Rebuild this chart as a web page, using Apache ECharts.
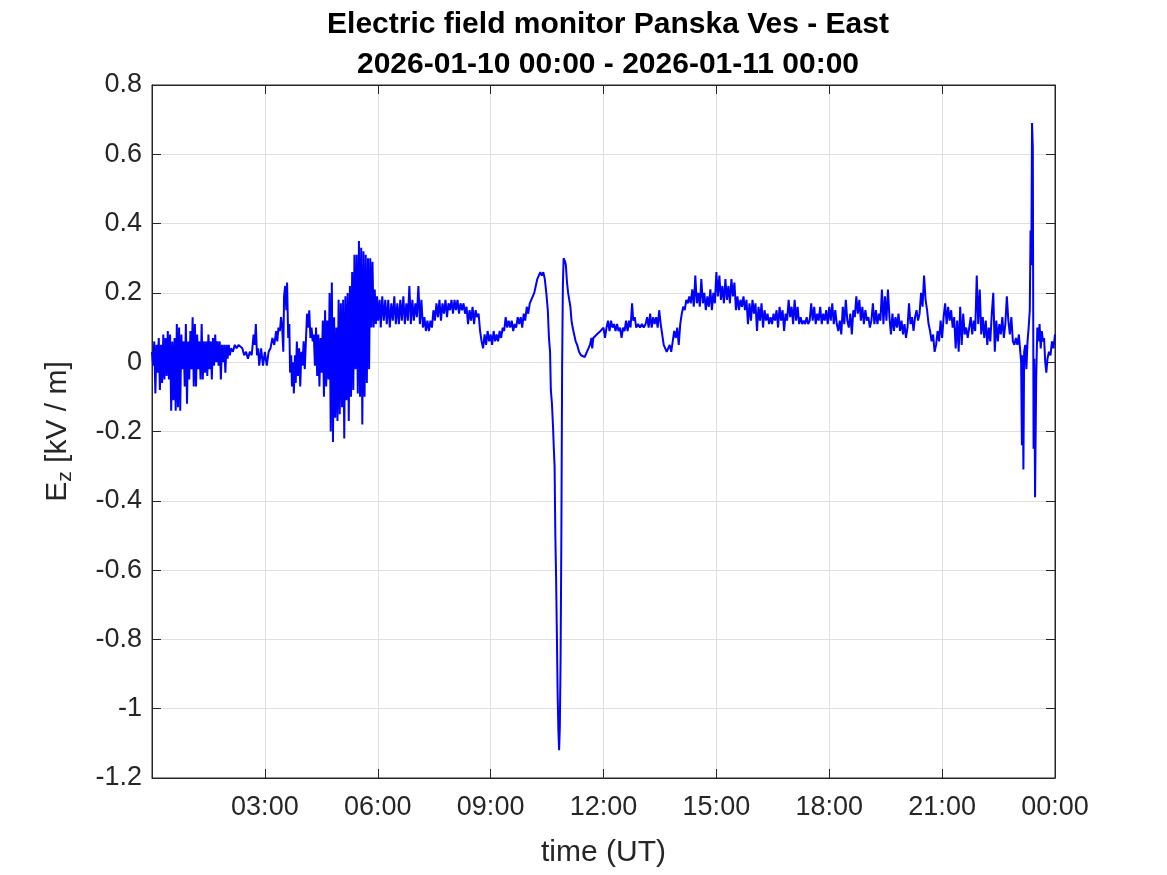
<!DOCTYPE html>
<html>
<head>
<meta charset="utf-8">
<title>Electric field monitor Panska Ves - East</title>
<script src="https://cdn.jsdelivr.net/npm/echarts@6/dist/echarts.min.js"></script>
<style>
  html, body { margin: 0; padding: 0; background: #fff; }
  #chart { width: 1167px; height: 875px; }
</style>
</head>
<body>
<div id="chart"></div>
<script>
// [hour UT, Ez in kV/m], one list per stretch of the day
const night = [
  [0.00, 0.03], [0.03, -0.01], [0.06, 0.06], [0.09, -0.09], [0.12, 0.05], [0.15, -0.03],
  [0.18, 0.07], [0.21, -0.08], [0.24, 0.05], [0.27, -0.06], [0.30, 0.08], [0.33, -0.05],
  [0.36, 0.07], [0.39, -0.04], [0.42, 0.09], [0.45, -0.05], [0.48, 0.08], [0.51, -0.14],
  [0.54, 0.06], [0.57, -0.11], [0.60, 0.07], [0.63, -0.14], [0.66, 0.11], [0.69, -0.13],
  [0.72, 0.10], [0.75, -0.14], [0.78, 0.08], [0.81, -0.02], [0.84, 0.06], [0.87, -0.07],
  [0.90, 0.11], [0.93, -0.12], [0.96, 0.06], [0.99, -0.05], [1.02, 0.09], [1.05, -0.02],
  [1.08, 0.13], [1.11, -0.07], [1.14, 0.11], [1.17, -0.07], [1.20, 0.08], [1.23, -0.02],
  [1.26, 0.06], [1.29, -0.05], [1.32, 0.11], [1.35, -0.05], [1.38, 0.06], [1.41, -0.03],
  [1.44, 0.06], [1.47, -0.04], [1.50, 0.08], [1.53, -0.02], [1.56, 0.06], [1.59, -0.05],
  [1.62, 0.07], [1.65, -0.01], [1.68, 0.08], [1.71, 0.00], [1.74, 0.06], [1.77, -0.01],
  [1.80, 0.06], [1.83, -0.05], [1.86, 0.05], [1.89, 0.00], [1.92, 0.05], [1.95, -0.03],
  [1.98, 0.05], [2.01, 0.01], [2.04, 0.05], [2.07, 0.02], [2.10, 0.04], [2.15, 0.03],
  [2.20, 0.05], [2.25, 0.04], [2.30, 0.05], [2.35, 0.05], [2.40, 0.04], [2.45, 0.02],
  [2.50, 0.03], [2.55, 0.01], [2.60, 0.03], [2.65, 0.02], [2.70, 0.08], [2.73, 0.05],
  [2.76, 0.11], [2.79, 0.02], [2.82, 0.04], [2.85, -0.01], [2.90, 0.04], [2.95, -0.01],
  [3.00, 0.03], [3.05, -0.01], [3.10, 0.03]
];

const earlyMorning = [
  [3.15, 0.04], [3.20, 0.07], [3.25, 0.05], [3.30, 0.09], [3.33, 0.06], [3.36, 0.10],
  [3.40, 0.09], [3.43, 0.13], [3.46, 0.10], [3.49, 0.03], [3.51, 0.19], [3.54, 0.22],
  [3.57, 0.15], [3.59, 0.23], [3.62, 0.07], [3.65, 0.11], [3.67, -0.03], [3.70, 0.02],
  [3.72, -0.07], [3.75, 0.00], [3.77, -0.09], [3.80, 0.02], [3.82, -0.06], [3.85, 0.06],
  [3.88, -0.04], [3.91, 0.04], [3.94, -0.07], [3.97, 0.03], [4.00, -0.01], [4.03, 0.06],
  [4.06, -0.02], [4.09, 0.06], [4.12, 0.14], [4.15, 0.10], [4.18, 0.15], [4.21, 0.07],
  [4.24, 0.10], [4.27, 0.06], [4.30, 0.08], [4.33, -0.01], [4.36, 0.10], [4.39, -0.04],
  [4.42, 0.08], [4.45, -0.07], [4.48, 0.07], [4.51, -0.03], [4.54, 0.12], [4.57, -0.10],
  [4.60, 0.15], [4.63, -0.07], [4.66, 0.12], [4.69, -0.05], [4.72, 0.20], [4.75, -0.20],
  [4.78, 0.23], [4.81, -0.23], [4.84, 0.13], [4.87, -0.16], [4.90, 0.10], [4.93, -0.17],
  [4.96, 0.18], [4.99, -0.15], [5.02, 0.17], [5.05, -0.13], [5.08, 0.18], [5.11, -0.22],
  [5.14, 0.19], [5.17, -0.11], [5.20, 0.20], [5.23, -0.17], [5.26, 0.22], [5.29, -0.10],
  [5.32, 0.26], [5.35, -0.08], [5.38, 0.31], [5.41, -0.02], [5.44, 0.31], [5.47, -0.09],
  [5.50, 0.35], [5.53, -0.10], [5.56, 0.33], [5.59, -0.18], [5.62, 0.32], [5.65, -0.10],
  [5.68, 0.31], [5.71, -0.06], [5.74, 0.30], [5.77, -0.02], [5.80, 0.30], [5.83, 0.10],
  [5.86, 0.29], [5.89, 0.10], [5.92, 0.21], [5.95, 0.11], [5.98, 0.19], [6.01, 0.12],
  [6.05, 0.18], [6.08, 0.10], [6.12, 0.19], [6.16, 0.12]
];

const morning = [
  [6.20, 0.18], [6.24, 0.11], [6.28, 0.18], [6.32, 0.10], [6.36, 0.17], [6.40, 0.12],
  [6.44, 0.19], [6.48, 0.11], [6.52, 0.17], [6.56, 0.11], [6.60, 0.18], [6.64, 0.12],
  [6.68, 0.19], [6.72, 0.11], [6.76, 0.17], [6.80, 0.12], [6.84, 0.22], [6.88, 0.11],
  [6.92, 0.18], [6.96, 0.12], [7.00, 0.17], [7.04, 0.13], [7.08, 0.22], [7.12, 0.11],
  [7.16, 0.18], [7.20, 0.10], [7.24, 0.13], [7.28, 0.09], [7.32, 0.12], [7.36, 0.09],
  [7.40, 0.12], [7.44, 0.10], [7.48, 0.15], [7.52, 0.12], [7.56, 0.17], [7.60, 0.13],
  [7.64, 0.18], [7.68, 0.12], [7.72, 0.17], [7.76, 0.14], [7.80, 0.18], [7.84, 0.13],
  [7.88, 0.17], [7.92, 0.15], [7.96, 0.18], [8.00, 0.14], [8.04, 0.18], [8.08, 0.15],
  [8.12, 0.18], [8.16, 0.14], [8.20, 0.17], [8.24, 0.15], [8.28, 0.17], [8.32, 0.14],
  [8.36, 0.16], [8.40, 0.11], [8.44, 0.15], [8.48, 0.12], [8.52, 0.16], [8.56, 0.11],
  [8.60, 0.15], [8.64, 0.13], [8.68, 0.14], [8.72, 0.09], [8.76, 0.06], [8.80, 0.04],
  [8.84, 0.08], [8.88, 0.05], [8.92, 0.09], [8.96, 0.06], [9.00, 0.08], [9.04, 0.05],
  [9.08, 0.09], [9.12, 0.06], [9.16, 0.08], [9.20, 0.06], [9.24, 0.09], [9.28, 0.07],
  [9.32, 0.10], [9.36, 0.09], [9.40, 0.13], [9.44, 0.10], [9.48, 0.12], [9.52, 0.10],
  [9.56, 0.12], [9.60, 0.09], [9.64, 0.11], [9.68, 0.10], [9.72, 0.13], [9.76, 0.11],
  [9.80, 0.13], [9.84, 0.10], [9.88, 0.14], [9.92, 0.12], [9.96, 0.16], [10.00, 0.14],
  [10.04, 0.17], [10.08, 0.17], [10.12, 0.19], [10.16, 0.20], [10.20, 0.22], [10.24, 0.24],
  [10.28, 0.25], [10.32, 0.26], [10.36, 0.25], [10.40, 0.26], [10.44, 0.24], [10.48, 0.20]
];

const dip = [
  [10.52, 0.15], [10.55, 0.07], [10.58, 0.03], [10.60, -0.08], [10.63, -0.12], [10.66, -0.19],
  [10.68, -0.25], [10.70, -0.30], [10.72, -0.50], [10.74, -0.62], [10.76, -0.78], [10.78, -0.95],
  [10.80, -1.06], [10.82, -1.12], [10.84, -1.05], [10.86, -0.85], [10.88, -0.50], [10.90, -0.02],
  [10.92, 0.22], [10.94, 0.30], [10.96, 0.30], [10.98, 0.29], [11.00, 0.28], [11.03, 0.23],
  [11.06, 0.20], [11.09, 0.18], [11.12, 0.16], [11.15, 0.12], [11.18, 0.10], [11.22, 0.08],
  [11.26, 0.06], [11.30, 0.05], [11.35, 0.03], [11.40, 0.02], [11.45, 0.02], [11.50, 0.015],
  [11.55, 0.02], [11.60, 0.04], [11.64, 0.05], [11.68, 0.07], [11.70, 0.04], [11.73, 0.07],
  [11.77, 0.07], [11.82, 0.08], [11.87, 0.08], [11.92, 0.09], [11.96, 0.09]
];

const afternoon = [
  [12.00, 0.10], [12.04, 0.07], [12.08, 0.10], [12.12, 0.12], [12.16, 0.09], [12.20, 0.12],
  [12.24, 0.10], [12.28, 0.11], [12.32, 0.09], [12.36, 0.11], [12.40, 0.09], [12.44, 0.10],
  [12.48, 0.07], [12.52, 0.10], [12.56, 0.09], [12.60, 0.12], [12.64, 0.09], [12.68, 0.12],
  [12.72, 0.10], [12.76, 0.17], [12.79, 0.12], [12.83, 0.13], [12.87, 0.10], [12.92, 0.11],
  [12.97, 0.10], [13.02, 0.11], [13.07, 0.10], [13.12, 0.11], [13.16, 0.13], [13.20, 0.10],
  [13.24, 0.14], [13.28, 0.10], [13.32, 0.13], [13.36, 0.11], [13.40, 0.13], [13.44, 0.10],
  [13.48, 0.15], [13.52, 0.11], [13.56, 0.08], [13.60, 0.05], [13.64, 0.04], [13.68, 0.03],
  [13.72, 0.04], [13.76, 0.05], [13.80, 0.03], [13.84, 0.06], [13.88, 0.09], [13.92, 0.07],
  [13.96, 0.10], [14.00, 0.05], [14.04, 0.11], [14.08, 0.14], [14.12, 0.16], [14.16, 0.15],
  [14.20, 0.18], [14.24, 0.17], [14.28, 0.19], [14.32, 0.17], [14.36, 0.21], [14.40, 0.16],
  [14.44, 0.25], [14.48, 0.17], [14.52, 0.20], [14.56, 0.16], [14.60, 0.24], [14.64, 0.17],
  [14.68, 0.20], [14.72, 0.15], [14.76, 0.19], [14.80, 0.16], [14.84, 0.21], [14.88, 0.15],
  [14.92, 0.20], [14.96, 0.17], [15.00, 0.26], [15.04, 0.19], [15.08, 0.25], [15.12, 0.18],
  [15.16, 0.22], [15.20, 0.17], [15.24, 0.24], [15.28, 0.18], [15.32, 0.22], [15.36, 0.17],
  [15.40, 0.24], [15.44, 0.19], [15.48, 0.23], [15.52, 0.15], [15.56, 0.19], [15.60, 0.15],
  [15.64, 0.18], [15.68, 0.16], [15.72, 0.19], [15.76, 0.15], [15.80, 0.18], [15.84, 0.11],
  [15.88, 0.17], [15.92, 0.12], [15.96, 0.18], [16.00, 0.14], [16.04, 0.17], [16.08, 0.09],
  [16.12, 0.16], [16.16, 0.12], [16.20, 0.17], [16.24, 0.10], [16.28, 0.15], [16.32, 0.12],
  [16.36, 0.14], [16.40, 0.11], [16.44, 0.13], [16.48, 0.11], [16.52, 0.14], [16.56, 0.12],
  [16.60, 0.15], [16.64, 0.10], [16.68, 0.16], [16.72, 0.12], [16.76, 0.15], [16.80, 0.09],
  [16.84, 0.14], [16.88, 0.12], [16.92, 0.18], [16.96, 0.13], [17.00, 0.16], [17.04, 0.11],
  [17.08, 0.18], [17.12, 0.12], [17.16, 0.16], [17.20, 0.11], [17.24, 0.13], [17.28, 0.11],
  [17.32, 0.12], [17.36, 0.11], [17.40, 0.13], [17.44, 0.11], [17.48, 0.12], [17.52, 0.17],
  [17.56, 0.12], [17.60, 0.16], [17.64, 0.11], [17.68, 0.14], [17.72, 0.12], [17.76, 0.16],
  [17.80, 0.11], [17.84, 0.14], [17.88, 0.12], [17.92, 0.15], [17.96, 0.11]
];

const evening = [
  [18.00, 0.16], [18.04, 0.12], [18.08, 0.17], [18.12, 0.11], [18.16, 0.15], [18.20, 0.11],
  [18.24, 0.09], [18.28, 0.12], [18.32, 0.08], [18.36, 0.16], [18.40, 0.11], [18.44, 0.18],
  [18.48, 0.12], [18.52, 0.10], [18.56, 0.14], [18.60, 0.08], [18.64, 0.15], [18.68, 0.13],
  [18.72, 0.19], [18.76, 0.14], [18.80, 0.18], [18.84, 0.12], [18.88, 0.16], [18.92, 0.11],
  [18.96, 0.15], [19.00, 0.12], [19.04, 0.13], [19.08, 0.10], [19.12, 0.12], [19.16, 0.17],
  [19.20, 0.11], [19.24, 0.15], [19.28, 0.11], [19.32, 0.14], [19.36, 0.12], [19.40, 0.21],
  [19.44, 0.11], [19.48, 0.19], [19.52, 0.12], [19.56, 0.21], [19.60, 0.13], [19.64, 0.08],
  [19.68, 0.14], [19.72, 0.09], [19.76, 0.13], [19.80, 0.10], [19.84, 0.14], [19.88, 0.09],
  [19.92, 0.12], [19.96, 0.08], [20.00, 0.11], [20.04, 0.07], [20.08, 0.10], [20.12, 0.17],
  [20.16, 0.11], [20.20, 0.13], [20.24, 0.09], [20.28, 0.13], [20.32, 0.15], [20.36, 0.12],
  [20.40, 0.14], [20.44, 0.20], [20.48, 0.16], [20.52, 0.25], [20.56, 0.18], [20.60, 0.15],
  [20.64, 0.11], [20.68, 0.09], [20.72, 0.06], [20.76, 0.08], [20.80, 0.03], [20.84, 0.05],
  [20.88, 0.09], [20.92, 0.06], [20.96, 0.12], [21.00, 0.07], [21.04, 0.13], [21.08, 0.17],
  [21.12, 0.11], [21.16, 0.16], [21.20, 0.12], [21.24, 0.15], [21.28, 0.10], [21.32, 0.13],
  [21.36, 0.04], [21.40, 0.12], [21.44, 0.03], [21.48, 0.16], [21.52, 0.05], [21.56, 0.14],
  [21.60, 0.08], [21.64, 0.10], [21.68, 0.07], [21.72, 0.10], [21.76, 0.13], [21.80, 0.08],
  [21.84, 0.12], [21.88, 0.09], [21.92, 0.25], [21.96, 0.11], [22.00, 0.21], [22.04, 0.08],
  [22.08, 0.13], [22.12, 0.07], [22.16, 0.12], [22.20, 0.05], [22.24, 0.10], [22.28, 0.06],
  [22.32, 0.14], [22.36, 0.20], [22.40, 0.03], [22.44, 0.12], [22.48, 0.06], [22.52, 0.11],
  [22.56, 0.08], [22.60, 0.13], [22.64, 0.07], [22.68, 0.11], [22.72, 0.19], [22.76, 0.12],
  [22.80, 0.08], [22.84, 0.13], [22.88, 0.06], [22.92, 0.05], [22.96, 0.07]
];

const lateNight = [
  [23.00, 0.05], [23.04, 0.08], [23.07, 0.04], [23.10, 0.00], [23.12, -0.24], [23.14, 0.02],
  [23.16, -0.31], [23.18, 0.03], [23.21, 0.05], [23.24, -0.02], [23.27, 0.06], [23.30, 0.10],
  [23.33, 0.15], [23.35, 0.38], [23.37, 0.28], [23.39, 0.69], [23.41, 0.62], [23.43, -0.25],
  [23.45, 0.01], [23.47, -0.39], [23.50, -0.05], [23.53, 0.10], [23.56, 0.06], [23.59, 0.11],
  [23.62, 0.04], [23.65, 0.09], [23.68, 0.06], [23.71, 0.07], [23.74, 0.00], [23.77, -0.03],
  [23.80, 0.01], [23.84, 0.03], [23.88, 0.02], [23.92, 0.06], [23.96, 0.04], [24.00, 0.08]
];

const xTickLabels = ['', '03:00', '06:00', '09:00', '12:00', '15:00', '18:00', '21:00', '00:00'];
const yTicks = [-1.2, -1, -0.8, -0.6, -0.4, -0.2, 0, 0.2, 0.4, 0.6, 0.8];

const ez = [].concat(night, earlyMorning, morning, dip, afternoon, evening, lateNight);

const font = 'Liberation Sans, Arial, Helvetica, sans-serif';
const tickColor = '#262626';
const gridColor = '#dfdfdf';
const tick = { inside: true, length: 9, lineStyle: { color: tickColor, width: 1 } };

const chart = echarts.init(document.getElementById('chart'));

chart.setOption({
  animation: false,
  title: {
    text: 'Electric field monitor Panska Ves - East\n2026-01-10 00:00 - 2026-01-11 00:00',
    left: 603,
    top: 0,
    textAlign: 'center',
    textStyle: { fontFamily: font, fontSize: 30, fontWeight: 'bold', color: '#000', lineHeight: 40 }
  },
  grid: {
    left: 152, right: 112, top: 85, bottom: 97,
    show: true, borderColor: tickColor, borderWidth: 1, backgroundColor: '#fff'
  },
  xAxis: [{
    type: 'value',
    min: 0, max: 24, interval: 3,
    name: 'time (UT)',
    nameLocation: 'middle',
    nameGap: 60,
    nameTextStyle: { fontFamily: font, fontSize: 30, color: tickColor },
    axisLine: { show: true, onZero: false, lineStyle: { color: tickColor, width: 1 } },
    axisTick: tick,
    axisLabel: {
      fontFamily: font, fontSize: 27, color: tickColor, margin: 16,
      formatter: v => xTickLabels[Math.round(v / 3)]
    },
    splitLine: { show: true, lineStyle: { color: gridColor, width: 1 } }
  }, {
    type: 'value', position: 'top',
    min: 0, max: 24, interval: 3,
    axisLine: { show: true, onZero: false, lineStyle: { color: tickColor, width: 1 } },
    axisTick: tick,
    axisLabel: { show: false },
    splitLine: { show: false }
  }],
  yAxis: [{
    type: 'value',
    min: -1.2, max: 0.8, interval: 0.2,
    name: '{e|E}{sub|z}{e| [kV / m]}',
    nameLocation: 'middle',
    nameGap: 76,
    nameRotate: 90,
    nameTextStyle: {
      fontFamily: font, color: tickColor,
      rich: {
        e: { fontFamily: font, fontSize: 30, color: tickColor, lineHeight: 36 },
        sub: { fontFamily: font, fontSize: 21, color: tickColor, lineHeight: 36, verticalAlign: 'bottom', padding: [16, 0, 0, 0] }
      }
    },
    axisLine: { show: true, onZero: false, lineStyle: { color: tickColor, width: 1 } },
    axisTick: tick,
    axisLabel: {
      fontFamily: font, fontSize: 27, color: tickColor, margin: 10,
      formatter: v => String(yTicks.find(t => Math.abs(t - v) < 1e-6))
    },
    splitLine: { show: true, lineStyle: { color: gridColor, width: 1 } }
  }, {
    type: 'value', position: 'right',
    min: -1.2, max: 0.8, interval: 0.2,
    axisLine: { show: true, onZero: false, lineStyle: { color: tickColor, width: 1 } },
    axisTick: tick,
    axisLabel: { show: false },
    splitLine: { show: false }
  }],
  series: [{
    type: 'line',
    xAxisIndex: 0,
    yAxisIndex: 0,
    data: ez,
    showSymbol: false,
    symbol: 'none',
    lineStyle: { color: '#0000ff', width: 2 },
    clip: true
  }]
});
</script>
</body>
</html>
